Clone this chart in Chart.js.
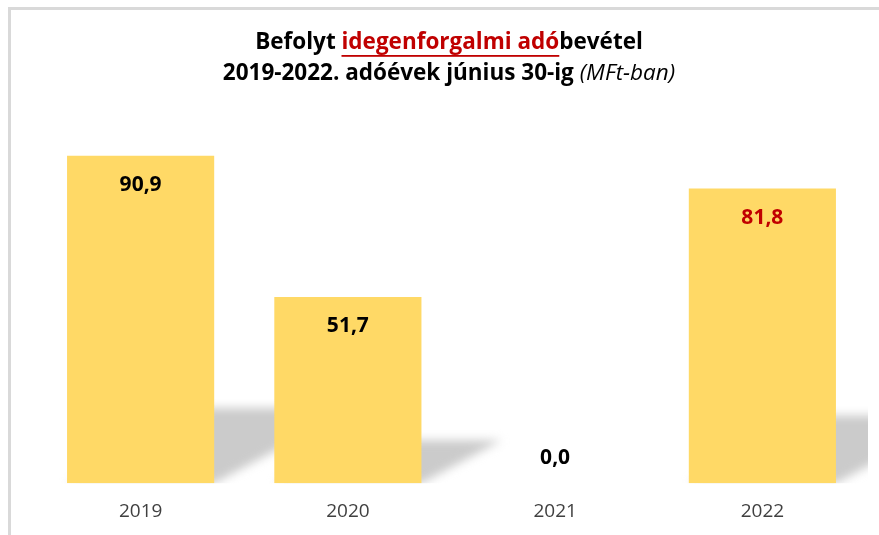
<!DOCTYPE html>
<html>
<head>
<meta charset="utf-8">
<script src="https://cdn.jsdelivr.net/npm/chart.js@4/dist/chart.umd.min.js"></script>
<style>
  html, body { margin: 0; padding: 0; background: #fff; overflow: hidden; }
  #wrap { position: relative; width: 879px; height: 535px; }
</style>
</head>
<body>
<div id="wrap"><canvas id="chart" width="879" height="535"></canvas></div>
<script>
// adatok
const years = ['2019', '2020', '2021', '2022'];
const revenue = [90.9, 51.7, 0.0, 81.8];
const labelColors = ['#000000', '#000000', '#000000', '#C00000'];

const titleLine1 = [
  { t: 'Befolyt ', color: '#000', style: 'bold' },
  { t: 'idegenforgalmi adó', color: '#C00000', style: 'bold', underline: true },
  { t: 'bevétel', color: '#000', style: 'bold' }
];
const titleLine2 = [
  { t: '2019-2022. adóévek június 30-ig ', color: '#000', style: 'bold' },
  { t: '(MFt-ban)', color: '#000', style: 'italic' }
];

const FONT = '"Open Sans", sans-serif';

function fmt(v) { return v.toFixed(1).replace('.', ','); }

// keret (bal + felso szegely)
const framePlugin = {
  id: 'frame',
  beforeDraw(chart) {
    const c = chart.ctx;
    c.save();
    c.fillStyle = '#d9d9d9';
    c.fillRect(8, 7, chart.width, 3);
    c.fillRect(8, 7, 3, chart.height);
    c.restore();
  }
};

// cim - vegyes stilusok miatt kezzel
const titlePlugin = {
  id: 'mixedTitle',
  afterDraw(chart) {
    const c = chart.ctx;
    const cx = 449;
    const size = 22.5;
    const drawLine = (parts, y) => {
      c.save();
      c.textBaseline = 'middle';
      let total = 0;
      parts.forEach(p => { c.font = p.style + ' ' + size + 'px ' + FONT; total += c.measureText(p.t).width; });
      let x = cx - total / 2;
      parts.forEach(p => {
        c.font = p.style + ' ' + size + 'px ' + FONT;
        c.fillStyle = p.color;
        c.textAlign = 'left';
        c.fillText(p.t, x, y);
        const w = c.measureText(p.t).width;
        if (p.underline) {
          c.fillRect(x, y + 12, w, 1.8);
        }
        x += w;
      });
      c.restore();
    };
    drawLine(titleLine1, 43);
    drawLine(titleLine2, 74);
  }
};

// perspektivikus arnyek az oszlopok mogott
const shadowPlugin = {
  id: 'barShadow',
  beforeDatasetsDraw(chart) {
    const c = chart.ctx;
    const area = chart.chartArea;
    const meta = chart.getDatasetMeta(0);
    c.save();
    c.beginPath();
    c.rect(area.left, area.top, area.right - area.left + 2, area.bottom - area.top);
    c.clip();
    c.filter = 'blur(5px)';
    c.fillStyle = '#cbcbcb';
    meta.data.forEach(bar => {
      const h = bar.base - bar.y;
      if (h <= 0) return;
      const l = bar.x - bar.width / 2, r = bar.x + bar.width / 2;
      const dx = h * 0.43, dy = h * 0.23;
      c.beginPath();
      c.moveTo(l, bar.base);
      c.lineTo(r, bar.base);
      c.lineTo(r + dx, bar.base - dy);
      c.lineTo(l + dx, bar.base - dy);
      c.closePath();
      c.fill();
    });
    c.restore();
  }
};

// ertekcimkek
const valuePlugin = {
  id: 'values',
  afterDatasetsDraw(chart) {
    const c = chart.ctx;
    const meta = chart.getDatasetMeta(0);
    c.save();
    c.font = 'bold 21px ' + FONT;
    c.textAlign = 'center';
    c.textBaseline = 'middle';
    meta.data.forEach((bar, i) => {
      const v = revenue[i];
      const y = v > 0 ? bar.y + 29 : bar.base - 25;
      c.fillStyle = labelColors[i];
      c.fillText(fmt(v), bar.x, y);
    });
    c.restore();
  }
};

new Chart(document.getElementById('chart'), {
  type: 'bar',
  data: {
    labels: years,
    datasets: [{
      data: revenue,
      backgroundColor: '#FFD966',
      borderWidth: 0,
      barPercentage: 0.71,
      categoryPercentage: 1
    }]
  },
  options: {
    responsive: false,
    animation: false,
    layout: { padding: { left: 37, right: 13, top: 123, bottom: 3 } },
    plugins: { legend: { display: false }, title: { display: false }, tooltip: { enabled: false } },
    scales: {
      x: {
        grid: { display: false },
        border: { display: false },
        ticks: { color: '#404040', font: { family: FONT, size: 19 }, padding: 9 }
      },
      y: { display: false, min: 0, max: 100 }
    }
  },
  plugins: [framePlugin, shadowPlugin, valuePlugin, titlePlugin]
});
</script>
</body>
</html>
